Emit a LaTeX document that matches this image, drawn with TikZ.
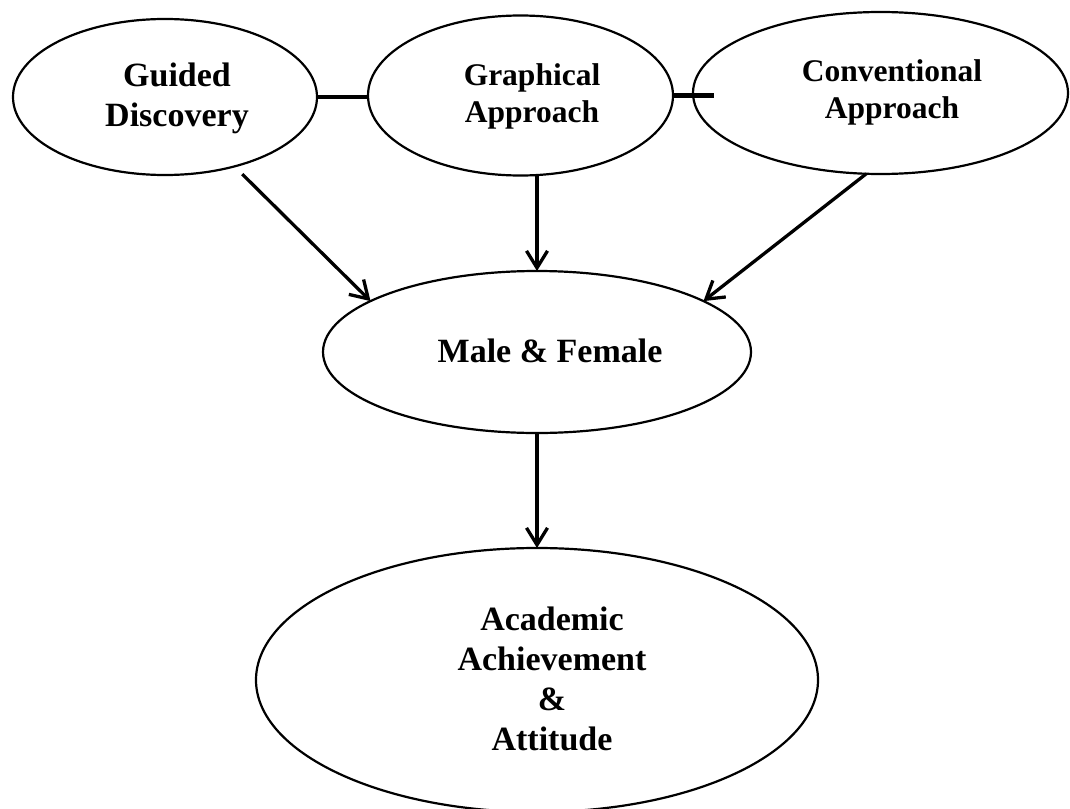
\documentclass[tikz,border=0pt]{standalone}
\usepackage{fontspec}
\setmainfont{Liberation Serif}
\usetikzlibrary{shapes.geometric,arrows.meta}
\begin{document}
\begin{tikzpicture}[x=1pt,y=-1pt,
  oval/.style={ellipse,draw,line width=2.2pt,inner sep=0pt,outer sep=0pt},
  lbl/.style={align=center,inner sep=0pt,font=\fontsize{34}{40}\selectfont\bfseries},
  lbls/.style={align=center,inner sep=0pt,font=\fontsize{31.5}{37}\selectfont\bfseries},
  arr/.style={line width=3.3pt,-{Straight Barb[length=17pt,width=21pt,line width=3.3pt]}},
  link/.style={line width=4.5pt}]
\useasboundingbox (0,0) rectangle (1070,808);
\node[oval,minimum width=304pt,minimum height=156pt] (gd) at (165,97) {};
\node[oval,minimum width=305pt,minimum height=160pt] (ga) at (520.5,95.5) {};
\node[oval,minimum width=375pt,minimum height=162pt] (ca) at (880.5,93) {};
\node[oval,minimum width=428pt,minimum height=162pt] (mf) at (537,352) {};
\node[oval,minimum width=562pt,minimum height=264pt] (aa) at (537,680) {};
\node[lbl] (gdt) at (177,98) {Guided\\Discovery};
\node[lbls] (gat) at (532,96) {Graphical\\Approach};
\node[lbls] (cat) at (892,92.5) {Conventional\\Approach};
\node[lbl] (mft) at (550,350.5) {Male \& Female};
\node[lbl] (aat) at (552,678.5) {Academic\\Achievement\\\&\\Attitude};
\coordinate (c2) at (714,95.5);
\draw[link] (gd.east) -- (gd.east -| ga.west);
\draw[link] (ga.east) -- (c2);
\draw[arr,shorten <=11pt] (gd.-45) -- (mf.163);
\draw[arr] (ga.south -| mf.north) -- (mf.north);
\draw[arr] (ca.-100) -- (mf.17);
\draw[arr] (mf.south) -- (aa.north);
\end{tikzpicture}
\end{document}
